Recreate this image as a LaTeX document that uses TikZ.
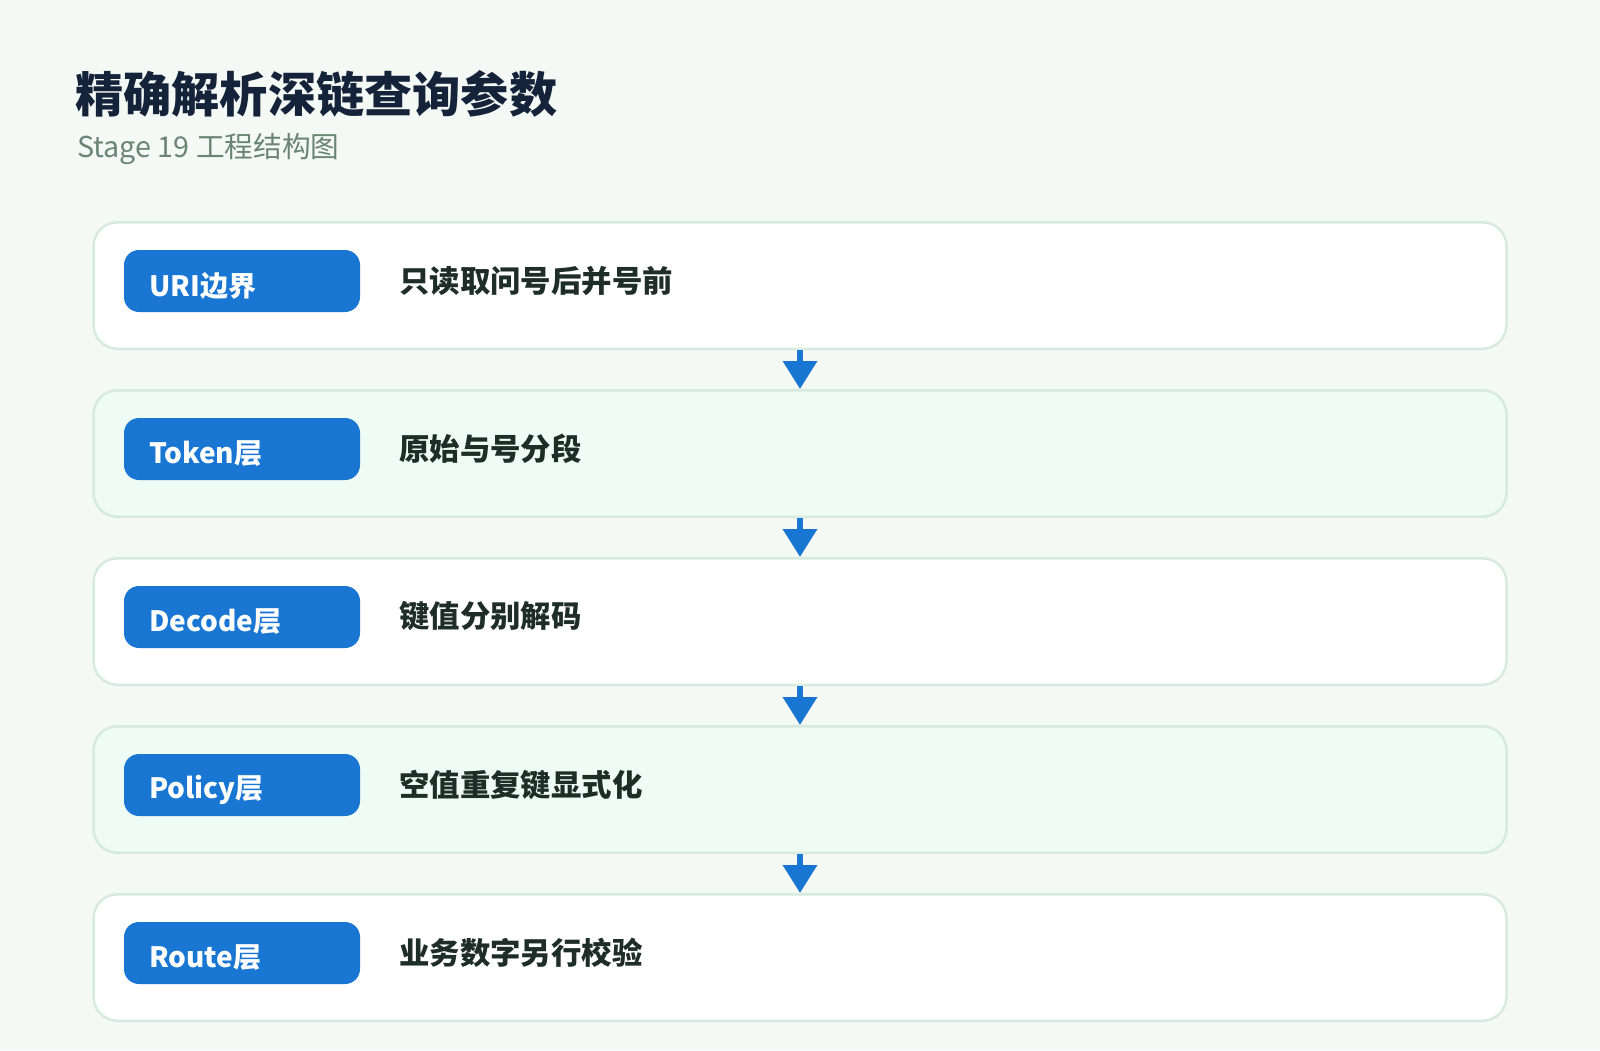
\documentclass[tikz,border=0pt]{standalone}
\usepackage{fontspec}
\setmainfont{Noto Sans CJK SC}
\usetikzlibrary{arrows.meta}
\definecolor{bgc}{HTML}{F5F9F6}
\definecolor{strokec}{HTML}{D6EADF}
\definecolor{mintc}{HTML}{EFFCF5}
\definecolor{pillc}{HTML}{1976D2}
\definecolor{titlec}{HTML}{15233A}
\definecolor{subc}{HTML}{6A8576}
\definecolor{descc}{HTML}{1E2D27}
\begin{document}
\begin{tikzpicture}[x=1pt,y=-1pt,
  stagebox/.style={draw=strokec, line width=2.5pt, rounded corners=24pt, minimum width=1413pt, minimum height=126.5pt, inner sep=0pt},
  pillbox/.style={fill=pillc, rounded corners=15pt, minimum width=236pt, minimum height=62pt, inner sep=0pt},
  pilltext/.style={anchor=west, inner sep=0pt, text=white, font=\fontsize{28}{31}\selectfont\bfseries},
  desctext/.style={anchor=west, inner sep=0pt, text=descc, font=\fontsize{30.4}{34}\selectfont\bfseries},
  flowarrow/.style={draw=pillc, line width=6.5pt, -{Triangle[width=33pt,length=28pt]}}
]
\fill[bgc] (0,0) rectangle (1600,1050);
\useasboundingbox (0,0) rectangle (1600,1050);

\node[anchor=west, inner sep=0pt, text=titlec, font=\fontsize{48.2}{56}\selectfont\bfseries] (title) at (75,94) {精确解析深链查询参数};
\node[anchor=west, inner sep=0pt, text=subc, font=\fontsize{28.7}{32}\selectfont] (subtitle) at (77,149) {Stage 19 工程结构图};

\foreach \i/\fc/\lab/\desc in {1/white/URI边界/只读取问号后并号前, 2/mintc/Token层/原始与号分段, 3/white/Decode层/键值分别解码, 4/mintc/Policy层/空值重复键显式化, 5/white/Route层/业务数字另行校验}{
  \pgfmathsetmacro{\cy}{285.5+168*(\i-1)}
  \node[stagebox, fill=\fc] (b\i) at (800,\cy) {};
  \node[pillbox] (p\i) at (242,\cy-4.5) {};
  \node[pilltext] (l\i) at (149,\cy+0.5) {\lab};
  \node[desctext] (d\i) at (399,\cy-5) {\desc};
}
\foreach \i/\j in {1/2,2/3,3/4,4/5}{
  \draw[flowarrow] (b\i.south) -- (b\j.north);
}
\end{tikzpicture}
\end{document}
